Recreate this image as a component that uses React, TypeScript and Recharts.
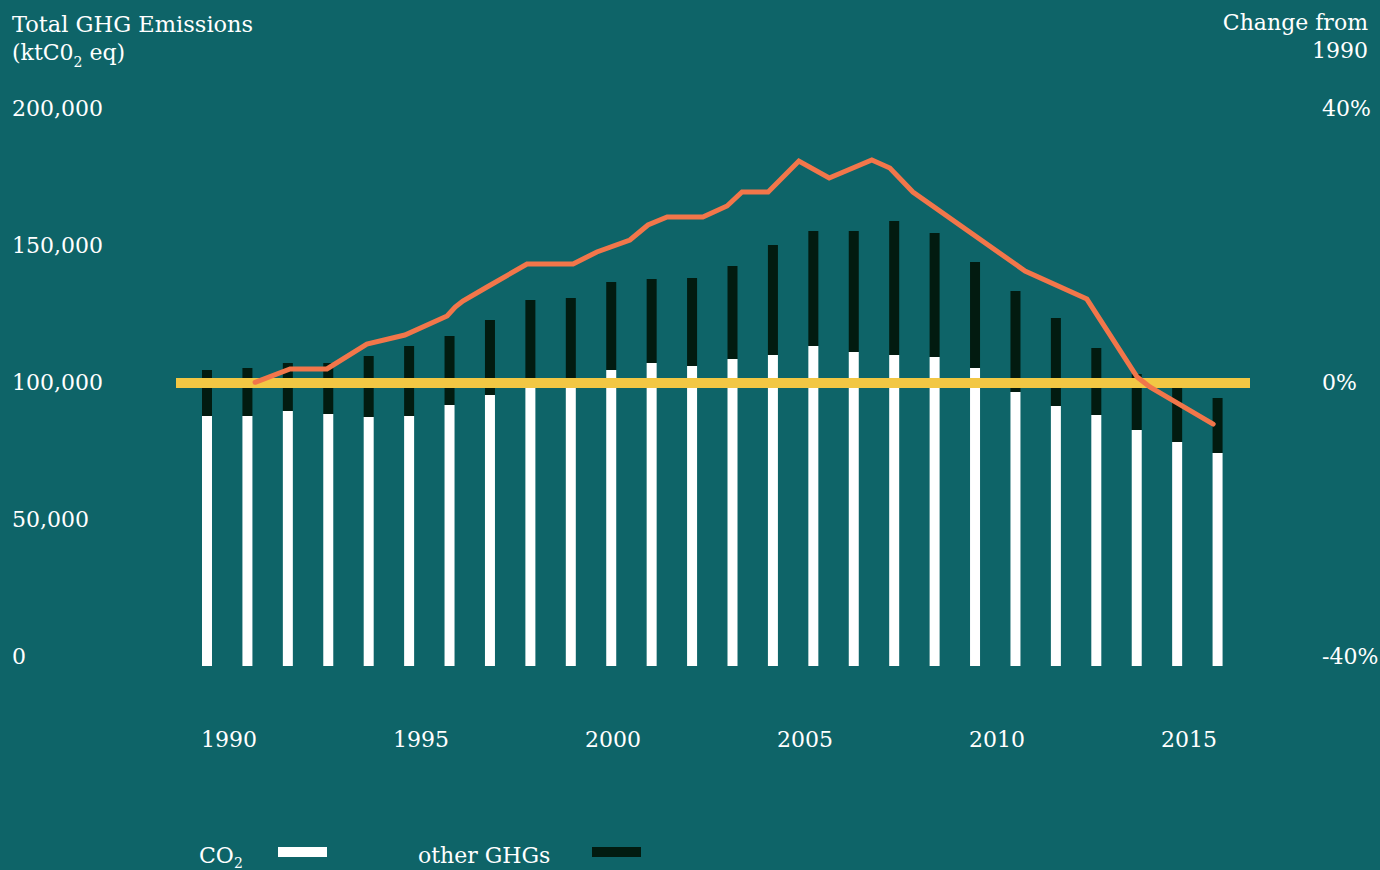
import React from 'react';
import { ComposedChart, Bar, Line, XAxis, YAxis, ReferenceLine } from 'recharts';

// ---- data ----
const years = ['1990','1991','1992','1993','1994','1995','1996','1997','1998','1999','2000','2001','2002','2003','2004','2005','2006','2007','2008','2009','2010','2011','2012','2013','2014','2015'];
const co2 = [88340, 88340, 90110, 89050, 87990, 88340, 92230, 95760, 99500, 99800, 104590, 107070, 106010, 108480, 109890, 113070, 110950, 109890, 109190, 105300, 96820, 91870, 88690, 83390, 79150, 75270];
const otherGhgs = [16250, 16960, 16960, 18020, 21550, 24730, 24380, 26500, 29830, 30240, 31100, 29680, 31090, 32860, 38870, 40640, 42760, 47350, 43810, 37460, 35690, 31100, 23680, 19790, 20500, 19430];

const changeYears = [1990.68, 1991.59, 1992.55, 1993.59, 1994.58, 1995.68, 1995.89, 1996.09, 1996.72, 1997.76, 1998.96, 1999.58, 2000.44, 2000.91, 2001.41, 2002.34, 2002.97, 2003.36, 2004.04, 2004.84, 2005.63, 2006.74, 2007.21, 2007.81, 2010.73, 2012.34, 2013.65, 2013.98, 2015.63];
const changePct = [0.1, 1.98, 1.98, 5.51, 6.78, 9.47, 10.74, 11.59, 13.57, 16.82, 16.82, 18.52, 20.21, 22.33, 23.46, 23.46, 25.02, 27.0, 27.0, 31.38, 28.98, 31.52, 30.39, 27.0, 15.83, 11.87, 0.85, -0.57, -5.8];

const leftTicks = [0, 50000, 100000, 150000, 200000];
const rightTicks = [-40, 0, 40];
const xTicks = [1990, 1995, 2000, 2005, 2010, 2015];
const xDomain = [1990, 2016];
const baselineValue = 100000;

const seriesNames = { co2: 'CO', other: 'other GHGs' };

// ---- styles ----
const BG = '#0E6468';
const WHITE = '#FFFFFF';
const DARK = '#021B10';
const ORANGE = '#F2764A';
const YELLOW = '#F2C744';
const FONT = "'DejaVu Serif', serif";
const FS = 22;

const barData = years.map((y, i) => ({ label: y, co2: co2[i], other: otherGhgs[i] }));
const lineData = changeYears.map((yr, i) => ({ yr, pct: changePct[i] }));

const fmt = (v: number) => v.toLocaleString('en-US');

const LeftTick = (props: any) => {
  const { x, y, payload } = props;
  const off = -2 + (payload.value / 100000) * 9;
  return (
    <text x={x} y={y + off} textAnchor="start" fill={WHITE} fontSize={FS} fontFamily={FONT}>
      {fmt(payload.value)}
    </text>
  );
};

const RightTick = (props: any) => {
  const { x, y, payload } = props;
  const off = 7 + (payload.value * 9) / 40;
  return (
    <text x={x} y={y + off} textAnchor="start" fill={WHITE} fontSize={FS} fontFamily={FONT}>
      {payload.value + '%'}
    </text>
  );
};

const BottomTick = (props: any) => {
  const { x, y, payload } = props;
  return (
    <text x={x} y={y} textAnchor="middle" fill={WHITE} fontSize={FS} fontFamily={FONT}>
      {payload.value}
    </text>
  );
};

export default function App() {
  return (
    <div style={{ position: 'relative', width: 1380, height: 870, background: BG, overflow: 'hidden' }}>
      <style>{'body{margin:0;background:' + BG + ';}'}</style>
      <ComposedChart
        width={1380}
        height={870}
        data={barData}
        margin={{ top: 100, right: 0, bottom: 104, left: 12 }}
        barCategoryGap={0}
      >
        <XAxis xAxisId="cat" dataKey="label" type="category" hide padding={{ left: 11, right: 12 }} />
        <XAxis
          xAxisId="num"
          dataKey="yr"
          type="number"
          domain={xDomain}
          ticks={xTicks}
          padding={{ left: 53, right: 22.6 }}
          height={100}
          axisLine={false}
          tickLine={false}
          tickSize={0}
          tickMargin={51}
          tick={<BottomTick />}
          interval={0}
        />
        <YAxis
          yAxisId="left"
          orientation="left"
          domain={[0, 200000]}
          ticks={leftTicks}
          width={164}
          axisLine={false}
          tickLine={false}
          tickSize={0}
          tickMargin={164}
          tick={<LeftTick />}
          interval={0}
        />
        <YAxis
          yAxisId="right"
          orientation="right"
          domain={[-40, 40]}
          ticks={rightTicks}
          width={130}
          axisLine={false}
          tickLine={false}
          tickSize={0}
          tickMargin={72}
          tick={<RightTick />}
          interval={0}
        />
        <Bar xAxisId="cat" yAxisId="left" dataKey="co2" name={seriesNames.co2} stackId="ghg" fill={WHITE} barSize={10} isAnimationActive={false} />
        <Bar xAxisId="cat" yAxisId="left" dataKey="other" name={seriesNames.other} stackId="ghg" fill={DARK} barSize={10} isAnimationActive={false} />
        <ReferenceLine xAxisId="cat" yAxisId="left" y={baselineValue} stroke={YELLOW} strokeWidth={10} />
        <Line
          xAxisId="num"
          yAxisId="right"
          data={lineData}
          dataKey="pct"
          type="linear"
          stroke={ORANGE}
          strokeWidth={5}
          strokeLinecap="round"
          dot={false}
          activeDot={false}
          isAnimationActive={false}
        />
      </ComposedChart>
      <svg width={1380} height={870} style={{ position: 'absolute', left: 0, top: 0, pointerEvents: 'none' }}>
        <g fill={WHITE} fontFamily={FONT} fontSize={FS}>
          <text x={12} y={32} fontSize={22.5}>Total GHG Emissions</text>
          <text x={12} y={60}>
            (ktC0<tspan fontSize={14} dy={7}>2</tspan><tspan dy={-7}> eq)</tspan>
          </text>
          <text x={1368} y={30} textAnchor="end">Change from</text>
          <text x={1368} y={58} textAnchor="end">1990</text>
          <text x={199} y={863}>
            {seriesNames.co2}<tspan fontSize={14} dy={5}>2</tspan>
          </text>
          <rect x={278} y={847} width={49} height={10} fill={WHITE} />
          <text x={418} y={863}>{seriesNames.other}</text>
          <rect x={592} y={847} width={49} height={10} fill={DARK} />
        </g>
      </svg>
    </div>
  );
}
